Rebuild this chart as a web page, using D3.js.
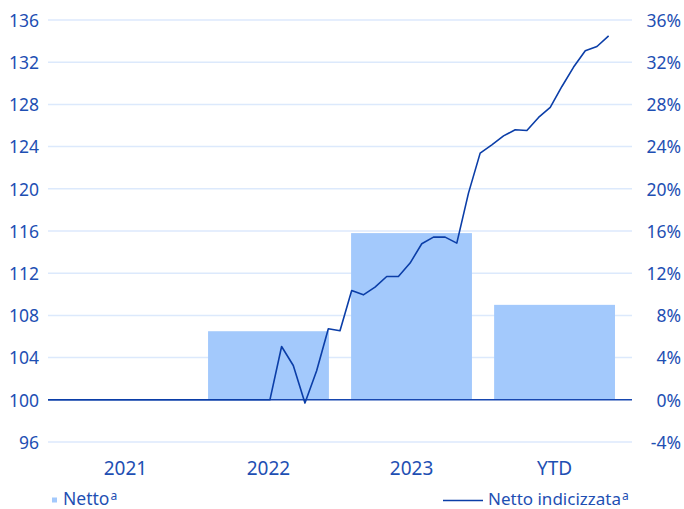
<!DOCTYPE html>
<html>
<head>
<meta charset="utf-8">
<script src="https://cdn.jsdelivr.net/npm/d3@7"></script>
<style>
  body { margin: 0; background: #fff; }
  svg text { font-family: "Noto Sans", "Open Sans", sans-serif; fill: #1e4fb3; }
</style>
</head>
<body>
<svg id="chart" width="684" height="509"></svg>
<script>
// categories and bar values (Netto, % right axis)
const categories = ['2021', '2022', '2023', 'YTD'];
const barValues = [0, 6.5, 15.8, 9.0];

// monthly index line (Netto indicizzata, left axis)
const lineValues = [
  100, 100, 100, 100, 100, 100, 100, 100, 100, 100,
  100, 100, 100, 100, 100, 100, 100, 100, 100, 100,
  105.05, 103.25, 99.69, 102.75, 106.73, 106.54, 110.36, 109.95, 110.68, 111.69,
  111.69, 112.96, 114.79, 115.42, 115.42, 114.85, 119.59, 123.38, 124.17, 125.02,
  125.59, 125.53, 126.76, 127.71, 129.70, 131.54, 133.08, 133.49, 134.50
];

const leftTicks = [96, 100, 104, 108, 112, 116, 120, 124, 128, 132, 136];
const rightTicks = [-4, 0, 4, 8, 12, 16, 20, 24, 28, 32, 36];

const svg = d3.select('#chart');
const plotL = 48, plotR = 632, plotT = 20, plotB = 442;

const yLeft = d3.scaleLinear().domain([96, 136]).range([plotB, plotT]);
const yRight = d3.scaleLinear().domain([-4, 36]).range([plotB, plotT]);
const xBand = d3.scaleBand().domain(categories).range([54, 626]).paddingInner(0.155).paddingOuter(0.077);
const xLine = d3.scaleLinear().domain([0, 50]).range([plotL, plotR]);

//gridlines
svg.append('g').selectAll('line')
  .data(leftTicks.filter(d => d !== 100))
  .join('line')
  .attr('x1', plotL).attr('x2', plotR)
  .attr('y1', d => yLeft(d)).attr('y2', d => yLeft(d))
  .style('stroke', '#dce9fc').style('stroke-width', '1.5px');

//bars
svg.append('g').selectAll('rect')
  .data(barValues.map((v, i) => ({cat: categories[i], v})).filter(d => d.v > 0))
  .join('rect')
  .attr('x', d => xBand(d.cat))
  .attr('width', xBand.bandwidth())
  .attr('y', d => yRight(d.v))
  .attr('height', d => yRight(0) - yRight(d.v))
  .style('fill', '#a3c9fc');

//baseline
svg.append('line')
  .attr('x1', plotL).attr('x2', plotR)
  .attr('y1', yLeft(100)).attr('y2', yLeft(100))
  .style('stroke', '#1747b0').style('stroke-width', '1.5px');

//line
const line = d3.line().x((d, i) => xLine(i)).y(d => yLeft(d));
svg.append('path')
  .datum(lineValues)
  .attr('d', line)
  .style('fill', 'none')
  .style('stroke', '#0b3ea8')
  .style('stroke-width', '1.6px')
  .style('stroke-linejoin', 'round');

//left axis
const axisL = d3.axisLeft(yLeft).tickValues(leftTicks).tickSize(0).tickPadding(8);
const gL = svg.append('g').attr('transform', `translate(${plotL},0)`).call(axisL);
gL.select('.domain').remove();
gL.selectAll('text').style('font-size', '17.5px').attr('x', -9).attr('dy', '0.36em');

//right axis
const axisR = d3.axisRight(yRight).tickValues(rightTicks).tickSize(0)
  .tickFormat(d => (d < 0 ? '-' : '') + Math.abs(d) + '%');
const gR = svg.append('g').attr('transform', `translate(681,0)`).call(axisR);
gR.select('.domain').remove();
gR.selectAll('text').style('font-size', '17.5px').attr('x', 0).attr('dy', '0.36em').attr('text-anchor', 'end');

//x axis
const axisX = d3.axisBottom(xBand).tickSize(0).tickPadding(0);
const gX = svg.append('g').attr('transform', `translate(0,475)`).call(axisX);
gX.select('.domain').remove();
gX.selectAll('text').style('font-size', '19px').attr('y', 0).attr('dy', 0);

//legend
const leg = svg.append('g');
leg.append('rect').attr('x', 52).attr('y', 497.5).attr('width', 5).attr('height', 5).style('fill', '#a3c9fc');
const t1 = leg.append('text').attr('x', 63).attr('y', 505).style('font-size', '17.5px');
t1.append('tspan').text('Netto');
t1.append('tspan').text('a').style('font-size', '12px').attr('dx', 1).attr('dy', '-5');

leg.append('line').attr('x1', 443).attr('x2', 483).attr('y1', 500.5).attr('y2', 500.5)
  .style('stroke', '#0b3ea8').style('stroke-width', '1.6px');
const t2 = leg.append('text').attr('x', 488).attr('y', 505).style('font-size', '17px');
t2.append('tspan').text('Netto indicizzata');
t2.append('tspan').text('a').style('font-size', '12px').attr('dx', 1).attr('dy', '-5');
</script>
</body>
</html>
